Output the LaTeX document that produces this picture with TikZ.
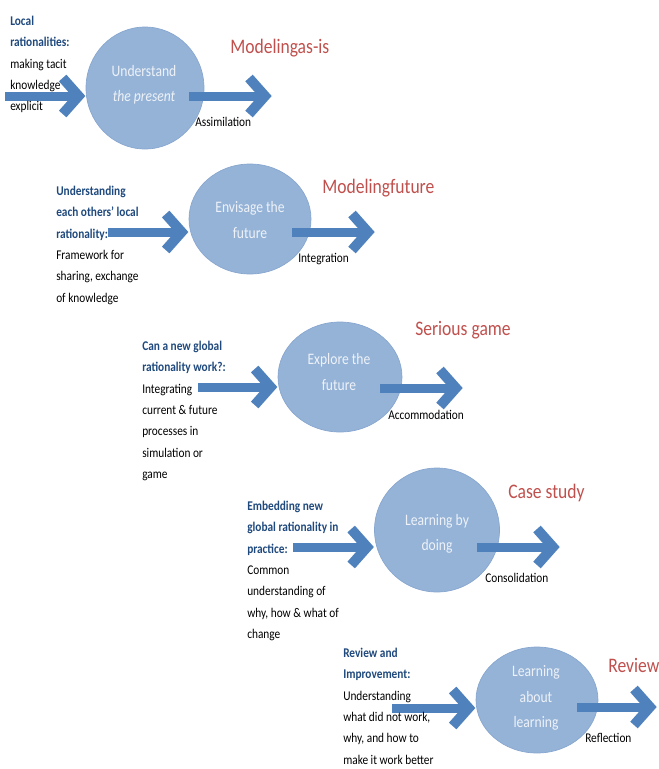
\documentclass[tikz,border=0pt]{standalone}
\usepackage{fontspec}
\setmainfont[FakeStretch=0.85]{Carlito}
\usetikzlibrary{shapes.geometric,calc}
\definecolor{arrowblue}{HTML}{4F81BD}
\definecolor{circfill}{HTML}{95B3D7}
\definecolor{circedge}{HTML}{87A6CF}
\definecolor{circtxt}{HTML}{EEF2F8}
\definecolor{lblue}{HTML}{1F497D}
\definecolor{hred}{HTML}{C0504D}
\tikzset{
  bubble/.style={ellipse, fill=circfill, draw=circedge, line width=0.5pt, inner sep=0pt},
  circtext/.style={align=center, text=circtxt, font=\fontsize{12}{19}\selectfont, inner sep=0pt},
  block/.style={align=left, anchor=north west, inner sep=0pt, font=\fontsize{10}{16.1}\selectfont},
  heading/.style={anchor=west, inner sep=0pt, text=hred, font=\fontsize{15.5}{18}\selectfont},
  small/.style={anchor=west, inner sep=0pt, font=\fontsize{10}{12}\selectfont},
  shaft/.style={draw=arrowblue, line width=6.75pt, line cap=butt},
  chev/.pic={\draw[arrowblue, line width=7.5pt, line cap=butt, line join=miter] (-16,-18) -- (0,0) -- (-16,18);}
}
\newcommand{\lb}[1]{\textbf{\textcolor{lblue}{#1}}}
\begin{document}
\begin{tikzpicture}[x=0.75pt,y=-0.75pt]
\useasboundingbox (0,0) rectangle (659,769);

% circles
\node[bubble, minimum width=88.5pt, minimum height=91.5pt] (c1) at (145,88) {};
\node[bubble, minimum width=91.5pt, minimum height=82.5pt] (c2) at (250,219) {};
\node[bubble, minimum width=93pt, minimum height=82.5pt] (c3) at (340,377) {};
\node[bubble, minimum width=93.75pt, minimum height=93pt] (c4) at (437,530) {};
\node[bubble, minimum width=91.5pt, minimum height=79.5pt] (c5) at (537,700) {};

% start / end coordinates
\coordinate (s1) at (5,96);
\coordinate (s2) at (108,232);
\coordinate (s3) at (198,387);
\coordinate (s4) at (293,547);
\coordinate (s5) at (392,708);
\coordinate (o1) at (272,96);
\coordinate (o2) at (375,232);
\coordinate (o3) at (463,388);
\coordinate (o4) at (560,547);
\coordinate (o5) at (657,707);

% incoming arrows
\foreach \i in {1,...,5}{
  \draw[shaft] (s\i) -- ($(c\i.west |- s\i)+(-7,0)$);
  \pic at ($(c\i.west |- s\i)+(-7,0)$) {chev};
}
% outgoing arrows
\draw[shaft] ($(c1.east |- o1)+(-15,0)$) -- ($(o1)+(-7,0)$);
\draw[shaft] ($(c2.east |- o2)+(-19,0)$) -- ($(o2)+(-7,0)$);
\draw[shaft] ($(c3.east |- o3)+(-22,0)$) -- ($(o3)+(-7,0)$);
\draw[shaft] ($(c4.east |- o4)+(-23,0)$) -- ($(o4)+(-7,0)$);
\draw[shaft] ($(c5.east |- o5)+(-21,0)$) -- ($(o5)+(-7,0)$);
\foreach \i in {1,...,5}{
  \pic at ($(o\i)+(-7,0)$) {chev};
}

% circle texts
\node[circtext] (t1) at (144,85) {Understand\\\textit{the present}};
\node[circtext] (t2) at (250,220) {Envisage the\\future};
\node[circtext] (t3) at (339,372) {Explore the\\future};
\node[circtext] (t4) at (437,534) {Learning by\\doing};
\node[circtext] (t5) at (536,698) {Learning\\about\\learning};

% left blocks
\node[block] (b1) at (10,15.5) {\lb{Local}\\\lb{rationalities:}\\making tacit\\knowledge\\explicit};
\node[block] (b2) at (56,185.5) {\lb{Understanding}\\\lb{each others' local}\\\lb{rationality:}\\Framework for\\sharing, exchange\\of knowledge};
\node[block] (b3) at (142,340.5) {\lb{Can a new global}\\\lb{rationality work?:}\\Integrating\\current \& future\\processes in\\simulation or\\game};
\node[block] (b4) at (247,500.5) {\lb{Embedding new}\\\lb{global rationality in}\\\lb{practice:}\\Common\\understanding of\\why, how \& what of\\change};
\node[block] (b5) at (343,647.5) {\lb{Review and}\\\lb{Improvement:}\\Understanding\\what did not work,\\why, and how to\\make it work better};

% headings
\node[heading] (h1) at (230,48) {Modelingas-is};
\node[heading] (h2) at (322,188) {Modelingfuture};
\node[heading] (h3) at (415,330) {Serious game};
\node[heading] (h4) at (508,493) {Case study};
\node[heading] (h5) at (608,665) {Review};

% small labels
\node[small] (l1) at (195,122) {Assimilation};
\node[small] (l2) at (298,259) {Integration};
\node[small] (l3) at (388,415) {Accommodation};
\node[small] (l4) at (485,578) {Consolidation};
\node[small] (l5) at (585,738) {Reflection};
\end{tikzpicture}
\end{document}
